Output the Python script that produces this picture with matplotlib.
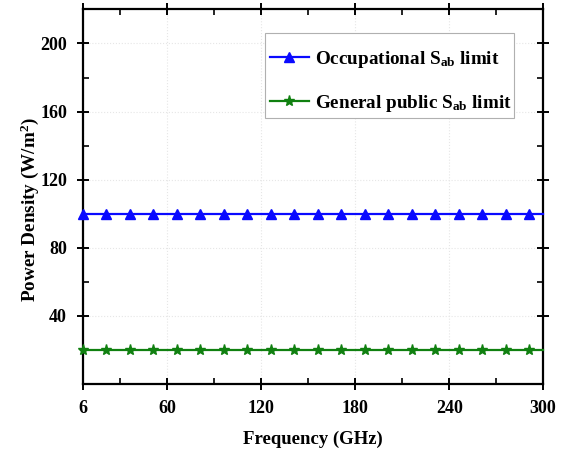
import matplotlib
matplotlib.use("Agg")
import matplotlib.pyplot as plt
from matplotlib.ticker import FixedLocator
from matplotlib.patches import Rectangle

plt.rcParams['font.family'] = ['Liberation Serif', 'DejaVu Serif']
plt.rcParams['mathtext.fontset'] = 'custom'
plt.rcParams['mathtext.rm'] = 'Liberation Serif:bold'
plt.rcParams['mathtext.bf'] = 'Liberation Serif:bold'
plt.rcParams['mathtext.it'] = 'Liberation Serif:bold'

# Data
freq = [6, 21, 36, 51, 66, 81, 96, 111, 126, 141, 156, 171, 186, 201, 216,
        231, 246, 261, 276, 291, 300]
occupational = [100] * len(freq)
general_public = [20] * len(freq)
x_ticks = [6, 60, 120, 180, 240, 300]
x_minor = [30, 90, 150, 210, 270]
y_ticks = [40, 80, 120, 160, 200]
y_minor = [20, 60, 100, 140, 180, 220]

fig = plt.figure(figsize=(5.64, 4.5), dpi=100)
ax = fig.add_axes([0.147, 0.147, 0.816, 0.832])

n_mark = len(freq) - 1
ax.plot(freq, occupational, color='#0a0aff', lw=1.6, marker='^', ms=6.5,
        markevery=slice(0, n_mark), label=r'Occupational S$_{\mathbf{ab}}$ limit',
        clip_on=False, zorder=3)
ax.plot(freq, general_public, color='#108010', lw=1.6, marker='*', ms=8,
        markevery=slice(0, n_mark), label=r'General public S$_{\mathbf{ab}}$ limit',
        clip_on=False, zorder=3)

ax.set_xlim(6, 300)
ax.set_ylim(0, 220)
ax.set_xticks(x_ticks)
ax.set_yticks(y_ticks)
ax.xaxis.set_minor_locator(FixedLocator(x_minor))
ax.yaxis.set_minor_locator(FixedLocator(y_minor))

ax.grid(True, which='major', color='#e6e6e6', lw=0.8, ls=':')
ax.set_axisbelow(True)

for s in ax.spines.values():
    s.set_linewidth(1.6)

ax.tick_params(which='major', direction='inout', length=9, width=1.4,
               top=True, right=True, labelsize=13, pad=7)
ax.tick_params(which='minor', direction='in', length=4, width=1.2,
               top=True, right=True)
for lab in ax.get_xticklabels() + ax.get_yticklabels():
    lab.set_fontweight('bold')

ax.set_xlabel('Frequency (GHz)', fontsize=13.5, fontweight='bold', labelpad=10)
ax.set_ylabel(r'Power Density (W/m$^{\mathbf{2}}$)', fontsize=13.8, fontweight='bold')
ax.yaxis.set_label_coords(-0.092, 0.465)

# legend frame
ax.add_patch(Rectangle((0.3957, 0.709), 0.5413, 0.227, transform=ax.transAxes,
                       facecolor='white', edgecolor='#b0b0b0', lw=0.8, zorder=4))

leg = ax.legend(loc='upper left', bbox_to_anchor=(0.4065, 0.894),
                prop={'weight': 'bold', 'size': 13.8}, frameon=False,
                borderpad=0.0, labelspacing=1.2,
                handlelength=2.03, handletextpad=0.3, borderaxespad=0)
leg.set_zorder(5)

fig.savefig('out.png', dpi=100)
